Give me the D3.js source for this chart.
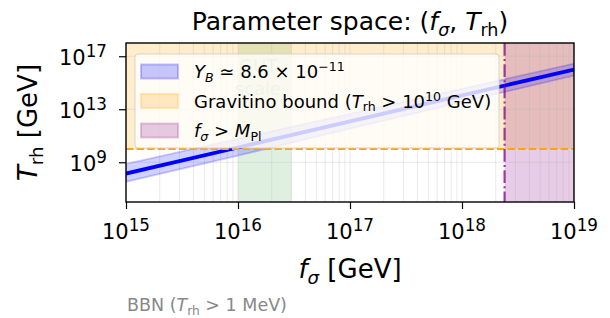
<!DOCTYPE html>
<html>
<head>
<meta charset="utf-8">
<script src="https://cdn.jsdelivr.net/npm/d3@7"></script>
<style>
  body { margin: 0; background: #fff; }
  svg { display: block; font-family: "DejaVu Sans", sans-serif; }
</style>
</head>
<body>
<div id="root"></div>
<script>
// data
const fSigma = [1e15, 1e16, 1e17, 1e18, 1e19];
const tRh = [1.4e8, 1.3e10, 1.2e12, 1.1e14, 1.0e16];
const tRhLow = [3.4e7, 3.2e9, 3.4e11, 3.5e13, 3.5e15];
const tRhHigh = [7.4e8, 5.9e10, 4.5e12, 3.5e14, 2.8e16];
const gravitinoBound = 1e10;
const planckMass = 2.4e18;
const gutRange = [1e16, 3e16];
const xDomain = [1e15, 1e19];
const yDomain = [1e6, 1e18];
const xTicks = [1e15, 1e16, 1e17, 1e18, 1e19];
const yTicks = [1e9, 1e13, 1e17];

const W = 610, H = 318;
const L = 126, R = 574, T = 43, B = 202;

const svg = d3.select('#root').append('svg')
  .attr('width', W).attr('height', H);

const x = d3.scaleLog().domain(xDomain).range([L, R]);
const y = d3.scaleLog().domain(yDomain).range([B, T]);

// minor ticks 2..9 per decade
const xMinor = [];
for (let d = 15; d < 19; d++) for (let k = 2; k <= 9; k++) xMinor.push(k * Math.pow(10, d));

// small mathtext helper: parts = [text, flags], flags: i (italic), sub, sup
const rich = (sel, parts, size, supScale = 0.7) => {
  let shift = 0;
  parts.forEach(([t, f = '']) => {
    const ts = sel.append('tspan').text(t);
    let want = 0;
    let fs = size;
    if (f.includes('sub')) { want = 0.22 * size; fs = size * 0.7; }
    if (f.includes('sup')) { want = -0.38 * size; fs = size * supScale; }
    ts.attr('font-size', fs).attr('dy', want - shift);
    shift = want;
    if (f.includes('i')) ts.attr('font-style', 'italic');
  });
};

svg.append('defs').append('clipPath').attr('id', 'plot')
  .append('rect').attr('x', L).attr('y', T).attr('width', R - L).attr('height', B - T);

const g = svg.append('g').attr('clip-path', 'url(#plot)');

// shaded regions
g.append('rect')
  .attr('x', x(gutRange[0])).attr('width', x(gutRange[1]) - x(gutRange[0]))
  .attr('y', T).attr('height', B - T)
  .attr('fill', 'green').attr('fill-opacity', 0.12);

g.append('rect')
  .attr('x', L).attr('width', R - L)
  .attr('y', T).attr('height', y(gravitinoBound) - T)
  .attr('fill', 'orange').attr('fill-opacity', 0.2);

g.append('rect')
  .attr('x', x(planckMass)).attr('width', R - x(planckMass))
  .attr('y', T).attr('height', B - T)
  .attr('fill', 'purple').attr('fill-opacity', 0.2);

// grid
g.selectAll('.vgrid').data(xTicks.concat(xMinor)).enter().append('line')
  .attr('x1', d => x(d)).attr('x2', d => x(d)).attr('y1', T).attr('y2', B)
  .attr('stroke', '#b0b0b0').attr('stroke-opacity', 0.35).attr('stroke-width', 0.8);
g.selectAll('.hgrid').data(yTicks).enter().append('line')
  .attr('x1', L).attr('x2', R).attr('y1', d => y(d)).attr('y2', d => y(d))
  .attr('stroke', '#b0b0b0').attr('stroke-opacity', 0.35).attr('stroke-width', 0.8);

// GUT label
const gut = g.append('text').attr('text-anchor', 'middle')
  .attr('fill', 'green').attr('fill-opacity', 0.3).attr('font-size', 18);
gut.append('tspan').attr('x', 258).attr('y', 72).text('GUT');
gut.append('tspan').attr('x', 258).attr('y', 95).text('scale');

// Y_B band and line
const pts = fSigma.map((f, i) => ({ f, t: tRh[i], lo: tRhLow[i], hi: tRhHigh[i] }));
g.append('path').datum(pts)
  .attr('d', d3.area().x(d => x(d.f)).y0(d => y(d.lo)).y1(d => y(d.hi)))
  .attr('fill', 'blue').attr('fill-opacity', 0.18)
  .attr('stroke', 'blue').attr('stroke-opacity', 0.2).attr('stroke-width', 1.8);
g.append('path').datum(pts)
  .attr('d', d3.line().x(d => x(d.f)).y(d => y(d.t)))
  .attr('fill', 'none').attr('stroke', 'blue').attr('stroke-width', 3.8);

// bound lines
g.append('line')
  .attr('x1', L).attr('x2', R).attr('y1', y(gravitinoBound)).attr('y2', y(gravitinoBound))
  .attr('stroke', 'orange').attr('stroke-width', 2).attr('stroke-dasharray', '7.4,3.2');
g.append('line')
  .attr('x1', x(planckMass)).attr('x2', x(planckMass)).attr('y1', T).attr('y2', B)
  .attr('stroke', 'purple').attr('stroke-opacity', 0.75).attr('stroke-width', 2.2)
  .attr('stroke-dasharray', '12.8,3.2,2,3.2');

// axes
const xAxis = svg.append('g').attr('transform', `translate(0,${B})`);
xAxis.call(d3.axisBottom(x).tickValues(xMinor).tickSize(4).tickFormat(''));
xAxis.call(d3.axisBottom(x).tickValues(xTicks).tickSize(7).tickFormat(''));
const yAxis = svg.append('g').attr('transform', `translate(${L},0)`);
yAxis.call(d3.axisLeft(y).tickValues(yTicks).tickSize(7).tickFormat(''));
svg.selectAll('.domain').remove();
svg.selectAll('.tick line').attr('stroke', '#000').attr('stroke-width', 1.2);

svg.append('rect').attr('x', L).attr('y', T).attr('width', R - L).attr('height', B - T)
  .attr('fill', 'none').attr('stroke', '#000').attr('stroke-width', 1.4);

xTicks.forEach(v => {
  const t = svg.append('text').attr('x', x(v)).attr('y', 239).attr('text-anchor', 'middle');
  rich(t, [['10'], [String(Math.round(Math.log10(v))), 'sup']], 21, 0.8);
});
yTicks.forEach(v => {
  const t = svg.append('text').attr('x', 107).attr('y', y(v) + 9).attr('text-anchor', 'end');
  rich(t, [['10'], [String(Math.round(Math.log10(v))), 'sup']], 21, 0.8);
});

// titles
const title = svg.append('text').attr('x', (L + R) / 2).attr('y', 30).attr('text-anchor', 'middle');
rich(title, [['Parameter space: ('], ['f', 'i'], ['σ', 'i sub'], [', '], ['T', 'i'], ['rh', 'sub'], [')']], 25);

const xl = svg.append('text').attr('x', (L + R) / 2).attr('y', 278).attr('text-anchor', 'middle');
rich(xl, [['f', 'i'], ['σ', 'i sub'], [' [GeV]']], 26);

const yl = svg.append('text').attr('text-anchor', 'middle')
  .attr('transform', `translate(37,${(T + B) / 2}) rotate(-90)`);
rich(yl, [['T', 'i'], ['rh', 'sub'], [' [GeV]']], 26);

const bbn = svg.append('text').attr('x', 127).attr('y', 311).attr('fill', '#888');
rich(bbn, [['BBN ('], ['T', 'i'], ['rh', 'sub'], [' > 1 MeV)']], 17.5);

// legend
const lg = svg.append('g');
lg.append('rect').attr('x', 135).attr('y', 54).attr('width', 364).attr('height', 94).attr('rx', 3)
  .attr('fill', '#fff').attr('fill-opacity', 0.8).attr('stroke', '#ccc').attr('stroke-opacity', 0.8);
const legendItems = [
  { color: 'blue', alpha: 0.22, parts: [['Y', 'i'], ['B', 'i sub'], [' ≃ 8.6 × 10'], ['−11', 'sup']] },
  { color: 'orange', alpha: 0.22, parts: [['Gravitino bound ('], ['T', 'i'], ['rh', 'sub'], [' > 10'], ['10', 'sup'], [' GeV)']] },
  { color: 'purple', alpha: 0.2, parts: [['f', 'i'], ['σ', 'i sub'], [' > '], ['M', 'i'], ['Pl', 'sub']] }
];
legendItems.forEach((it, i) => {
  const cy = 71.5 + i * 29.5;
  lg.append('rect').attr('x', 141).attr('y', cy - 7).attr('width', 37).attr('height', 14)
    .attr('fill', it.color).attr('fill-opacity', it.alpha)
    .attr('stroke', it.color).attr('stroke-opacity', it.alpha).attr('stroke-width', 2);
  const t = lg.append('text').attr('x', 194).attr('y', cy + 6.5);
  rich(t, it.parts, 18);
});
</script>
</body>
</html>
